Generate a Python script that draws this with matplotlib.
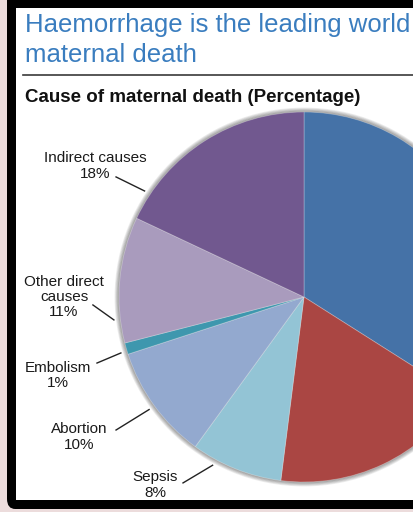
import matplotlib
matplotlib.use('Agg')
import matplotlib.pyplot as plt
import numpy as np
from matplotlib.patches import Rectangle, FancyBboxPatch, Circle
from matplotlib.lines import Line2D

plt.rcParams['font.family'] = ['Liberation Sans', 'DejaVu Sans']

# cause of maternal death, percent (clockwise from 12 o'clock)
causes = ['Haemorrhage', 'Hypertension', 'Sepsis', 'Abortion', 'Embolism',
          'Other direct\ncauses', 'Indirect causes']
shares = [34, 18, 8, 10, 1, 11, 18]
colors = ['#4572A7', '#AA4643', '#93C4D5', '#93A9CF', '#3E97AE', '#A99BBD', '#71588F']

# label placement in pie-radius units, only for the slices on the left side
label_pos = {2: (-0.805, -1.016), 3: (-1.216, -0.757), 4: (-1.330, -0.422),
             5: (-1.297, 0.0), 6: (-1.130, 0.708)}
leader_from = {2: (-0.654, -1.005), 3: (-1.016, -0.719), 4: (-1.119, -0.357),
               5: (-1.141, -0.043), 6: (-1.016, 0.649)}
leader_frac = {2: 0.26, 3: 0.50, 4: 0.72, 5: 0.81, 6: 0.87}

W, H = 414, 512
fig = plt.figure(figsize=(W / 100, H / 100), dpi=100)
fig.patch.set_facecolor('#ecdcdc')


def fx(px):
    return px / W


def fy(py):
    return 1 - py / H


# black slide frame and white panel
fig.add_artist(FancyBboxPatch((fx(7), fy(509)), 1.2, 1.2, boxstyle='round,pad=0,rounding_size=0.02',
                              transform=fig.transFigure, facecolor='black', edgecolor='none', zorder=-10))
fig.add_artist(Rectangle((fx(16), fy(500)), 1.2, fy(8) - fy(500),
                         transform=fig.transFigure, facecolor='white', edgecolor='none', zorder=-9))

# headline
fig.text(fx(25), fy(32), 'Haemorrhage is the leading world', color='#3A7DBF',
         fontsize=18.5, va='baseline', ha='left')
fig.text(fx(25), fy(62), 'maternal death', color='#3A7DBF', fontsize=18.5, va='baseline', ha='left')
fig.add_artist(Line2D([fx(23), 1.0], [fy(75), fy(75)], color='#3a3a3a', lw=1.2,
                      transform=fig.transFigure))
fig.text(fx(25), fy(102), 'Cause of maternal death (Percentage)', fontsize=13.5, fontweight='bold',
         va='baseline', ha='left', color='#111111')

# pie axes: centre at (304, 297) px, radius 185 px
R, cx, cy, k = 185, 304, 297, 1.75
side = 2 * k * R
ax = fig.add_axes([(cx - k * R) / W, (H - cy - k * R) / H, side / W, side / H])
ax.patch.set_visible(False)

# soft shadow round the pie
for i in range(1, 7):
    ax.add_patch(Circle((0, 0), 1 + 0.004 * i, color='black', alpha=0.07, lw=0, zorder=0))

wedges, _ = ax.pie(shares, colors=colors, startangle=90, counterclock=False, radius=1,
                   wedgeprops=dict(edgecolor=(1, 1, 1, 0.3), linewidth=0.6))
for w in wedges:
    w.set_zorder(2)

ax.set_xlim(-k, k)
ax.set_ylim(-k, k)
ax.axis('off')

for i, (lx, ly) in label_pos.items():
    ax.text(lx, ly, f'{causes[i]}\n{shares[i]}%', ha='center', va='center', fontsize=11,
            linespacing=1.1, color='#1a1a1a')
    w = wedges[i]
    ang = np.deg2rad(w.theta1 + leader_frac[i] * (w.theta2 - w.theta1))
    ex, ey = 1.035 * np.cos(ang), 1.035 * np.sin(ang)
    sx, sy = leader_from[i]
    ax.plot([sx, ex], [sy, ey], color='#222222', lw=1.0, clip_on=False)

fig.savefig('out.png', dpi=100, facecolor=fig.get_facecolor())
